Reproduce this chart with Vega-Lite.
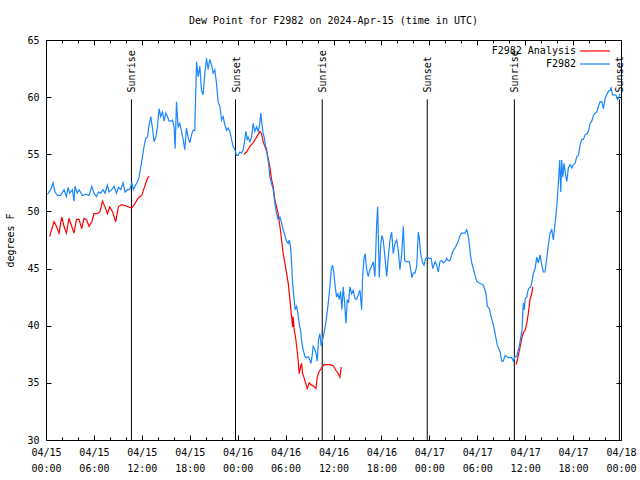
{
  "$schema": "https://vega.github.io/schema/vega-lite/v6.json",
  "width": 575,
  "height": 400,
  "autosize": {"type": "none"},
  "padding": {"left": 46, "top": 40, "right": 19, "bottom": 40},
  "background": "white",
  "title": {"text": "Dew Point for F2982 on 2024-Apr-15 (time in UTC)", "frame": "group", "anchor": "middle", "offset": 9, "font": "DejaVu Sans Mono", "fontSize": 10, "fontWeight": "normal", "color": "black"},
  "datasets": {
    "sun": [
      {"t": 10.70, "label": "Sunrise"}, {"t": 23.73, "label": "Sunset"},
      {"t": 34.59, "label": "Sunrise"}, {"t": 47.74, "label": "Sunset"},
      {"t": 58.65, "label": "Sunrise"}, {"t": 71.80, "label": "Sunset"}
    ],
    "analysis": [
      {"g":1,"t":0.45,"v":47.8},{"g":1,"t":1.00,"v":49.1},{"g":1,"t":1.30,"v":48.7},{"g":1,"t":1.63,"v":48.1},{"g":1,"t":1.97,"v":49.5},{"g":1,"t":2.26,"v":48.7},{"g":1,"t":2.56,"v":48.1},{"g":1,"t":2.88,"v":49.4},{"g":1,"t":3.22,"v":48.7},{"g":1,"t":3.51,"v":48.1},{"g":1,"t":3.81,"v":49.3},{"g":1,"t":4.14,"v":49.3},{"g":1,"t":4.47,"v":48.5},{"g":1,"t":4.76,"v":49.4},{"g":1,"t":5.06,"v":49.3},{"g":1,"t":5.39,"v":48.7},{"g":1,"t":5.73,"v":49.1},{"g":1,"t":6.01,"v":49.8},{"g":1,"t":6.44,"v":49.8},{"g":1,"t":6.77,"v":50.0},{"g":1,"t":7.07,"v":50.9},{"g":1,"t":7.39,"v":50.4},{"g":1,"t":7.69,"v":49.8},{"g":1,"t":7.98,"v":50.4},{"g":1,"t":8.32,"v":50.0},{"g":1,"t":8.73,"v":49.1},{"g":1,"t":9.07,"v":50.4},{"g":1,"t":9.49,"v":50.6},{"g":1,"t":9.90,"v":50.5},{"g":1,"t":10.33,"v":50.4},{"g":1,"t":10.74,"v":50.3},{"g":1,"t":11.15,"v":50.7},{"g":1,"t":11.58,"v":51.2},{"g":1,"t":11.99,"v":51.4},{"g":1,"t":12.41,"v":52.3},{"g":1,"t":12.71,"v":52.9},{"g":1,"t":12.91,"v":53.1},
      {"g":2,"t":24.77,"v":55.0},{"g":2,"t":25.11,"v":55.2},{"g":2,"t":25.53,"v":55.7},{"g":2,"t":25.94,"v":56.0},{"g":2,"t":26.37,"v":56.5},{"g":2,"t":26.78,"v":57.0},{"g":2,"t":26.99,"v":56.8},{"g":2,"t":27.19,"v":56.1},{"g":2,"t":27.41,"v":55.7},{"g":2,"t":27.69,"v":55.1},{"g":2,"t":28.03,"v":53.9},{"g":2,"t":28.24,"v":52.8},{"g":2,"t":28.45,"v":52.2},{"g":2,"t":28.66,"v":51.0},{"g":2,"t":29.07,"v":49.8},{"g":2,"t":29.29,"v":48.7},{"g":2,"t":29.50,"v":47.5},{"g":2,"t":29.70,"v":46.3},{"g":2,"t":29.91,"v":45.5},{"g":2,"t":30.12,"v":44.6},{"g":2,"t":30.33,"v":43.7},{"g":2,"t":30.54,"v":42.3},{"g":2,"t":30.75,"v":40.8},{"g":2,"t":30.88,"v":39.9},{"g":2,"t":30.95,"v":40.8},{"g":2,"t":31.08,"v":39.6},{"g":2,"t":31.25,"v":39.0},{"g":2,"t":31.38,"v":38.2},{"g":2,"t":31.58,"v":37.0},{"g":2,"t":31.70,"v":35.8},{"g":2,"t":31.88,"v":36.4},{"g":2,"t":32.00,"v":36.7},{"g":2,"t":32.13,"v":35.8},{"g":2,"t":32.29,"v":35.5},{"g":2,"t":32.51,"v":35.0},{"g":2,"t":32.71,"v":34.5},{"g":2,"t":32.96,"v":35.0},{"g":2,"t":33.26,"v":34.8},{"g":2,"t":33.55,"v":34.7},{"g":2,"t":33.80,"v":34.5},{"g":2,"t":33.96,"v":35.5},{"g":2,"t":34.21,"v":36.0},{"g":2,"t":34.51,"v":36.3},{"g":2,"t":34.80,"v":36.6},{"g":2,"t":35.14,"v":36.6},{"g":2,"t":35.55,"v":36.6},{"g":2,"t":35.96,"v":36.5},{"g":2,"t":36.30,"v":36.1},{"g":2,"t":36.59,"v":35.8},{"g":2,"t":36.80,"v":35.5},{"g":2,"t":36.97,"v":36.4},
      {"g":3,"t":58.86,"v":36.6},{"g":3,"t":59.02,"v":37.0},{"g":3,"t":59.20,"v":37.6},{"g":3,"t":59.36,"v":38.1},{"g":3,"t":59.57,"v":38.9},{"g":3,"t":59.77,"v":39.4},{"g":3,"t":59.99,"v":39.6},{"g":3,"t":60.20,"v":40.2},{"g":3,"t":60.40,"v":41.1},{"g":3,"t":60.61,"v":42.3},{"g":3,"t":60.83,"v":42.8},{"g":3,"t":60.95,"v":43.4}
    ],
    "obs": [
      {"t":0.18,"v":51.5},{"t":0.59,"v":51.9},{"t":0.88,"v":52.5},{"t":1.13,"v":51.7},{"t":1.43,"v":51.4},{"t":1.84,"v":51.4},{"t":2.26,"v":51.9},{"t":2.56,"v":51.3},{"t":2.76,"v":52.1},{"t":2.97,"v":51.6},{"t":3.31,"v":51.9},{"t":3.51,"v":50.9},{"t":3.63,"v":52.2},{"t":3.93,"v":51.6},{"t":4.14,"v":51.9},{"t":4.56,"v":51.4},{"t":4.97,"v":51.5},{"t":5.39,"v":51.4},{"t":5.73,"v":52.2},{"t":6.01,"v":51.6},{"t":6.32,"v":51.3},{"t":6.57,"v":51.7},{"t":6.85,"v":51.6},{"t":7.14,"v":51.9},{"t":7.39,"v":51.6},{"t":7.69,"v":52.3},{"t":7.89,"v":51.7},{"t":8.23,"v":51.9},{"t":8.52,"v":52.2},{"t":8.82,"v":51.6},{"t":9.07,"v":52.1},{"t":9.36,"v":51.9},{"t":9.65,"v":52.5},{"t":9.90,"v":51.7},{"t":10.20,"v":51.9},{"t":10.49,"v":51.9},{"t":10.74,"v":52.5},{"t":10.95,"v":51.9},{"t":11.15,"v":52.2},{"t":11.45,"v":52.6},{"t":11.65,"v":53.0},{"t":11.87,"v":53.9},{"t":12.08,"v":54.8},{"t":12.28,"v":55.7},{"t":12.49,"v":56.4},{"t":12.71,"v":56.5},{"t":12.91,"v":57.6},{"t":13.12,"v":58.3},{"t":13.33,"v":57.3},{"t":13.53,"v":56.1},{"t":13.75,"v":56.5},{"t":13.96,"v":57.4},{"t":14.16,"v":59.0},{"t":14.37,"v":58.3},{"t":14.59,"v":58.7},{"t":14.79,"v":57.9},{"t":15.00,"v":58.6},{"t":15.21,"v":58.3},{"t":15.41,"v":57.9},{"t":15.63,"v":57.9},{"t":15.84,"v":58.0},{"t":16.04,"v":57.4},{"t":16.17,"v":55.5},{"t":16.34,"v":59.6},{"t":16.54,"v":57.4},{"t":16.75,"v":57.7},{"t":16.97,"v":57.0},{"t":17.17,"v":56.3},{"t":17.38,"v":55.4},{"t":17.59,"v":57.3},{"t":17.79,"v":56.5},{"t":18.01,"v":56.0},{"t":18.22,"v":56.7},{"t":18.42,"v":57.1},{"t":18.63,"v":57.1},{"t":18.85,"v":63.1},{"t":19.05,"v":61.8},{"t":19.26,"v":62.7},{"t":19.47,"v":60.6},{"t":19.67,"v":60.2},{"t":19.89,"v":62.1},{"t":20.10,"v":63.4},{"t":20.30,"v":62.4},{"t":20.51,"v":63.3},{"t":20.73,"v":62.8},{"t":20.93,"v":62.1},{"t":21.14,"v":62.4},{"t":21.35,"v":61.2},{"t":21.55,"v":59.6},{"t":21.77,"v":59.2},{"t":21.98,"v":58.0},{"t":22.18,"v":58.3},{"t":22.39,"v":57.6},{"t":22.61,"v":57.1},{"t":22.81,"v":57.3},{"t":23.02,"v":57.0},{"t":23.23,"v":56.3},{"t":23.43,"v":55.7},{"t":23.65,"v":55.4},{"t":23.86,"v":54.9},
      {"t":24.06,"v":54.9},{"t":24.27,"v":55.2},{"t":24.49,"v":55.1},{"t":24.69,"v":55.4},{"t":24.90,"v":56.3},{"t":25.02,"v":57.0},{"t":25.19,"v":56.3},{"t":25.31,"v":56.5},{"t":25.53,"v":56.1},{"t":25.74,"v":56.5},{"t":25.94,"v":57.7},{"t":26.15,"v":57.0},{"t":26.37,"v":57.4},{"t":26.57,"v":57.0},{"t":26.78,"v":57.7},{"t":26.90,"v":58.6},{"t":27.03,"v":57.7},{"t":27.19,"v":56.8},{"t":27.32,"v":56.5},{"t":27.49,"v":55.7},{"t":27.62,"v":55.5},{"t":27.74,"v":54.8},{"t":27.87,"v":54.2},{"t":28.03,"v":53.0},{"t":28.45,"v":51.9},{"t":28.66,"v":50.7},{"t":28.87,"v":49.8},{"t":29.07,"v":49.3},{"t":29.29,"v":49.5},{"t":29.50,"v":49.0},{"t":29.70,"v":48.4},{"t":29.91,"v":47.9},{"t":30.12,"v":47.4},{"t":30.33,"v":47.2},{"t":30.45,"v":47.5},{"t":30.63,"v":46.9},{"t":30.75,"v":45.5},{"t":30.88,"v":43.7},{"t":31.04,"v":42.5},{"t":31.20,"v":41.4},{"t":31.38,"v":41.7},{"t":31.54,"v":41.1},{"t":31.70,"v":40.2},{"t":31.88,"v":39.6},{"t":32.04,"v":38.5},{"t":32.20,"v":37.9},{"t":32.42,"v":37.3},{"t":32.63,"v":37.2},{"t":32.83,"v":37.3},{"t":33.04,"v":37.0},{"t":33.17,"v":36.7},{"t":33.33,"v":37.4},{"t":33.46,"v":38.2},{"t":33.67,"v":37.9},{"t":33.80,"v":37.6},{"t":33.96,"v":36.9},{"t":34.13,"v":38.8},{"t":34.30,"v":39.3},{"t":34.46,"v":38.2},{"t":34.64,"v":38.8},{"t":34.80,"v":39.3},{"t":34.96,"v":39.9},{"t":35.14,"v":40.8},{"t":35.34,"v":42.0},{"t":35.55,"v":43.4},{"t":35.71,"v":44.9},{"t":35.89,"v":45.3},{"t":36.05,"v":44.6},{"t":36.21,"v":43.4},{"t":36.39,"v":42.5},{"t":36.55,"v":42.8},{"t":36.72,"v":42.3},{"t":36.89,"v":43.0},{"t":37.05,"v":41.4},{"t":37.22,"v":43.4},{"t":37.39,"v":42.0},{"t":37.56,"v":40.2},{"t":37.72,"v":42.3},{"t":37.89,"v":42.0},{"t":38.06,"v":43.4},{"t":38.27,"v":42.8},{"t":38.47,"v":43.1},{"t":38.68,"v":42.4},{"t":38.90,"v":42.3},{"t":39.10,"v":42.7},{"t":39.31,"v":43.1},{"t":39.52,"v":41.4},{"t":39.65,"v":44.3},{"t":39.81,"v":45.8},{"t":39.97,"v":46.3},{"t":40.15,"v":44.9},{"t":40.35,"v":44.3},{"t":40.56,"v":44.9},{"t":40.77,"v":45.2},{"t":40.98,"v":45.6},{"t":41.19,"v":44.3},{"t":41.40,"v":48.8},{"t":41.53,"v":50.4},{"t":41.73,"v":44.2},{"t":41.90,"v":46.9},{"t":42.07,"v":47.9},{"t":42.23,"v":47.5},{"t":42.44,"v":46.0},{"t":42.66,"v":44.3},{"t":42.86,"v":46.0},{"t":43.07,"v":47.5},{"t":43.28,"v":48.2},{"t":43.48,"v":46.3},{"t":43.70,"v":47.2},{"t":43.91,"v":47.5},{"t":44.11,"v":46.6},{"t":44.32,"v":44.9},{"t":44.54,"v":46.3},{"t":44.74,"v":48.7},{"t":44.91,"v":45.7},{"t":45.16,"v":45.6},{"t":45.49,"v":45.6},{"t":45.66,"v":44.9},{"t":45.83,"v":44.2},{"t":45.99,"v":44.6},{"t":46.20,"v":44.6},{"t":46.42,"v":45.2},{"t":46.62,"v":48.2},{"t":46.74,"v":47.7},{"t":46.92,"v":46.3},{"t":47.12,"v":45.6},{"t":47.33,"v":45.3},{"t":47.54,"v":45.9},{"t":47.74,"v":46.0},
      {"t":47.99,"v":45.9},{"t":48.24,"v":45.9},{"t":48.42,"v":45.0},{"t":48.58,"v":45.3},{"t":48.75,"v":45.6},{"t":48.92,"v":45.3},{"t":49.12,"v":44.7},{"t":49.33,"v":45.6},{"t":49.55,"v":45.7},{"t":49.75,"v":45.5},{"t":49.96,"v":45.6},{"t":50.17,"v":45.9},{"t":50.37,"v":45.7},{"t":50.59,"v":45.7},{"t":50.80,"v":46.2},{"t":51.00,"v":46.6},{"t":51.21,"v":46.8},{"t":51.43,"v":47.1},{"t":51.63,"v":47.4},{"t":51.84,"v":47.9},{"t":52.05,"v":48.1},{"t":52.25,"v":48.1},{"t":52.47,"v":48.1},{"t":52.68,"v":48.4},{"t":52.80,"v":48.1},{"t":52.97,"v":47.4},{"t":53.13,"v":46.3},{"t":53.31,"v":45.5},{"t":53.51,"v":45.0},{"t":53.72,"v":44.4},{"t":53.93,"v":43.9},{"t":54.35,"v":43.7},{"t":54.69,"v":43.6},{"t":54.89,"v":43.3},{"t":55.10,"v":42.8},{"t":55.26,"v":41.7},{"t":55.51,"v":41.5},{"t":55.69,"v":40.9},{"t":55.85,"v":40.5},{"t":56.01,"v":40.1},{"t":56.19,"v":39.5},{"t":56.35,"v":38.9},{"t":56.51,"v":38.3},{"t":56.69,"v":38.0},{"t":56.85,"v":37.7},{"t":57.07,"v":36.9},{"t":57.27,"v":36.9},{"t":57.48,"v":37.4},{"t":57.69,"v":37.3},{"t":57.89,"v":37.2},{"t":58.11,"v":37.2},{"t":58.32,"v":37.2},{"t":58.52,"v":36.9},{"t":58.73,"v":37.3},{"t":58.95,"v":37.3},{"t":59.15,"v":37.9},{"t":59.27,"v":38.2},{"t":59.45,"v":39.0},{"t":59.61,"v":39.6},{"t":59.70,"v":41.1},{"t":59.77,"v":42.0},{"t":59.90,"v":41.4},{"t":60.02,"v":42.4},{"t":60.20,"v":42.5},{"t":60.36,"v":43.1},{"t":60.52,"v":43.3},{"t":60.70,"v":43.4},{"t":60.86,"v":43.9},{"t":61.03,"v":44.6},{"t":61.24,"v":45.0},{"t":61.45,"v":46.0},{"t":61.65,"v":45.5},{"t":61.87,"v":46.2},{"t":62.08,"v":45.3},{"t":62.28,"v":44.7},{"t":62.49,"v":44.7},{"t":62.71,"v":46.0},{"t":62.91,"v":47.1},{"t":63.12,"v":48.1},{"t":63.33,"v":48.4},{"t":63.53,"v":47.5},{"t":63.75,"v":49.0},{"t":63.96,"v":50.4},{"t":64.08,"v":51.7},{"t":64.21,"v":53.0},{"t":64.33,"v":54.5},{"t":64.46,"v":51.7},{"t":64.58,"v":54.5},{"t":64.71,"v":53.0},{"t":64.87,"v":54.2},{"t":65.04,"v":53.3},{"t":65.21,"v":52.6},{"t":65.41,"v":53.8},{"t":65.63,"v":54.1},{"t":65.84,"v":53.8},{"t":66.04,"v":54.1},{"t":66.25,"v":54.2},{"t":66.46,"v":54.8},{"t":66.67,"v":54.9},{"t":66.88,"v":55.8},{"t":67.09,"v":56.3},{"t":67.29,"v":56.3},{"t":67.50,"v":56.7},{"t":67.72,"v":56.8},{"t":67.92,"v":57.0},{"t":68.13,"v":57.7},{"t":68.34,"v":57.9},{"t":68.54,"v":58.4},{"t":68.76,"v":58.6},{"t":68.97,"v":58.7},{"t":69.17,"v":59.2},{"t":69.39,"v":59.6},{"t":69.60,"v":59.6},{"t":69.80,"v":59.0},{"t":70.01,"v":59.9},{"t":70.22,"v":60.2},{"t":70.42,"v":60.5},{"t":70.64,"v":60.6},{"t":70.76,"v":60.8},{"t":70.93,"v":60.2},{"t":71.14,"v":60.2},{"t":71.35,"v":60.2},{"t":71.55,"v":59.8},{"t":71.73,"v":60.0},{"t":71.89,"v":60.3}
    ]
  },
  "layer": [
    {
      "data": {"name": "sun"},
      "mark": {"type": "rule", "color": "black", "strokeWidth": 1},
      "encoding": {
        "x": {"field": "t", "type": "quantitative", "scale": {"domain": [0, 72], "nice": false, "zero": false},
          "axis": {"orient": "bottom", "values": [0,2,4,6,8,10,12,14,16,18,20,22,24,26,28,30,32,34,36,38,40,42,44,46,48,50,52,54,56,58,60,62,64,66,68,70,72],
            "tickSize": {"condition": {"test": "datum.value % 6 == 0", "value": -5}, "value": -3},
            "labelExpr": "datum.value % 6 == 0 ? ['04/' + (15 + floor(datum.value / 24)), (datum.value % 24 < 10 ? '0' : '') + (datum.value % 24) + ':00'] : ''",
            "labelOverlap": false, "labelFlush": false, "labelPadding": 12, "labelLineHeight": 16, "title": null}},
        "y": {"datum": 30, "type": "quantitative", "scale": {"domain": [30, 65], "nice": false, "zero": false},
          "axis": {"orient": "left", "values": [30,35,40,45,50,55,60,65], "tickSize": -5, "labelPadding": 12, "title": "degrees F", "titleX": -31, "titleY": 200, "titleAlign": "center", "titleBaseline": "bottom"}},
        "y2": {"datum": 59.8}
      }
    },
    {
      "data": {"name": "sun"},
      "mark": {"type": "text", "angle": 270, "align": "left", "baseline": "middle", "dx": 7, "dy": 1, "font": "DejaVu Sans Mono", "fontSize": 10, "color": "black"},
      "encoding": {
        "x": {"field": "t", "type": "quantitative",
          "axis": {"orient": "top", "values": [0,2,4,6,8,10,12,14,16,18,20,22,24,26,28,30,32,34,36,38,40,42,44,46,48,50,52,54,56,58,60,62,64,66,68,70,72],
            "tickSize": {"condition": {"test": "datum.value % 6 == 0", "value": -5}, "value": -3}, "labels": false, "title": null}},
        "y": {"datum": 59.8, "type": "quantitative",
          "axis": {"orient": "right", "values": [30,35,40,45,50,55,60,65], "tickSize": -5, "labels": false, "title": null}},
        "text": {"field": "label"}
      }
    },
    {
      "data": {"name": "analysis"},
      "mark": {"type": "line", "strokeWidth": 1.2},
      "encoding": {
        "x": {"field": "t", "type": "quantitative", "axis": null},
        "y": {"field": "v", "type": "quantitative", "axis": null},
        "detail": {"field": "g"},
        "color": {"datum": "F2982 Analysis", "type": "nominal",
          "scale": {"domain": ["F2982 Analysis", "F2982"], "range": ["#ff0000", "#1a86ff"]},
          "legend": {"orient": "none", "legendX": 543, "legendY": 5, "title": null, "symbolType": "M-3,0H3", "symbolSize": 100, "symbolStrokeWidth": 1.2, "symbolFillColor": "transparent", "labelAlign": "right", "labelOffset": -25, "labelFont": "DejaVu Sans Mono", "labelFontSize": 10, "labelColor": "black", "padding": 0, "rowPadding": 2, "labelLimit": 0}}
      }
    },
    {
      "data": {"name": "obs"},
      "mark": {"type": "line", "strokeWidth": 1.2},
      "encoding": {
        "x": {"field": "t", "type": "quantitative", "axis": null},
        "y": {"field": "v", "type": "quantitative", "axis": null},
        "color": {"datum": "F2982", "type": "nominal"}
      }
    }
  ],
  "resolve": {"axis": {"x": "independent", "y": "independent"}},
  "config": {
    "font": "DejaVu Sans Mono",
    "view": {"stroke": "black", "strokeWidth": 1},
    "axis": {"domain": false, "grid": false, "tickColor": "black", "tickWidth": 1, "labelColor": "black", "labelFont": "DejaVu Sans Mono", "labelFontSize": 10, "titleFont": "DejaVu Sans Mono", "titleFontSize": 10, "titleFontWeight": "normal", "titleColor": "black"}
  }
}
